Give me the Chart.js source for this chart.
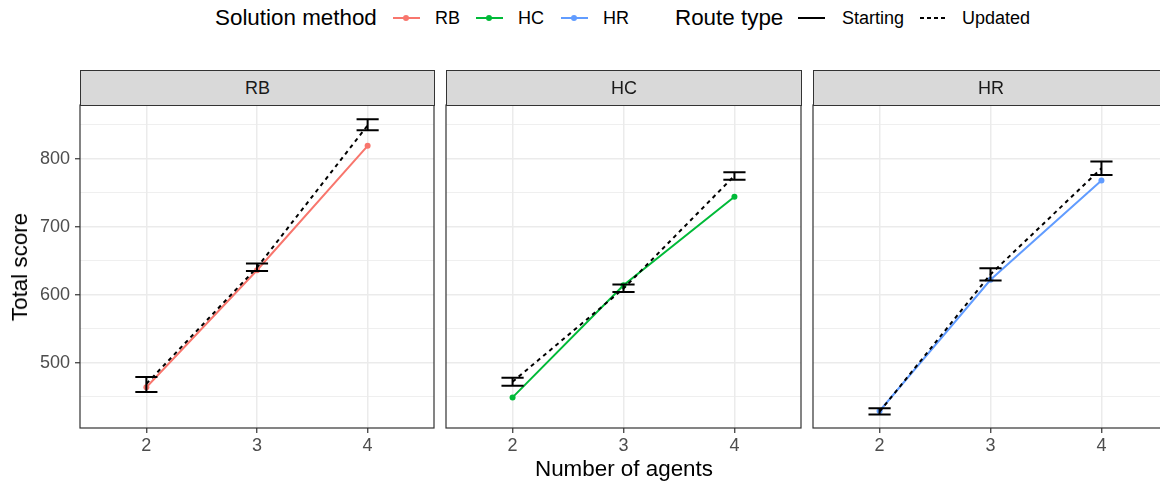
<!DOCTYPE html>
<html>
<head>
<meta charset="utf-8">
<script src="https://cdn.jsdelivr.net/npm/chart.js@4/dist/chart.umd.min.js"></script>
<style>
  html, body { margin: 0; padding: 0; overflow: hidden; background: #fff; }
  body { width: 1160px; height: 484px; position: relative; font-family: "Liberation Sans", Arial, sans-serif; color: #000; }
  .abs { position: absolute; white-space: nowrap; }
  .ttl { font-size: 22.4px; line-height: 26px; }
  .lbl { font-size: 18px; line-height: 22px; }
  .strip { position: absolute; top: 70px; height: 36px; box-sizing: border-box; border: 1px solid #333; background: #d9d9d9;
           color: #1a1a1a; font-size: 18px; line-height: 34px; text-align: center; z-index: 2; }
  canvas { position: absolute; top: 100px; }
  .key { position: absolute; top: 17px; height: 2px; }
  .dot { position: absolute; top: 15px; width: 6px; height: 6px; border-radius: 50%; }
</style>
</head>
<body>
  <!-- legend -->
  <div class="abs ttl" style="left:215px; top:5px;">Solution method</div>
  <div class="key" style="left:393px; width:27px; background:#F8766D;"></div>
  <div class="dot" style="left:403px; background:#F8766D;"></div>
  <div class="abs lbl" style="left:435px; top:7px;">RB</div>
  <div class="key" style="left:476px; width:27px; background:#00BA38;"></div>
  <div class="dot" style="left:486px; background:#00BA38;"></div>
  <div class="abs lbl" style="left:518px; top:7px;">HC</div>
  <div class="key" style="left:561px; width:27px; background:#619CFF;"></div>
  <div class="dot" style="left:571px; background:#619CFF;"></div>
  <div class="abs lbl" style="left:603px; top:7px;">HR</div>

  <div class="abs ttl" style="left:675px; top:5px;">Route type</div>
  <div class="key" style="left:798px; width:27px; background:#000;"></div>
  <div class="abs lbl" style="left:842px; top:7px;">Starting</div>
  <div class="key" style="left:920px; width:28px; background:repeating-linear-gradient(90deg, #000 0 4px, transparent 4px 7px);"></div>
  <div class="abs lbl" style="left:962px; top:7px;">Updated</div>

  <!-- facet strips -->
  <div class="strip" style="left:80px; width:355px;">RB</div>
  <div class="strip" style="left:446px; width:356px;">HC</div>
  <div class="strip" style="left:813px; width:356px;">HR</div>

  <canvas id="panelRB" width="440" height="360" style="left:0px;"></canvas>
  <canvas id="panelHC" width="367" height="360" style="left:440px;"></canvas>
  <canvas id="panelHR" width="367" height="360" style="left:807px;"></canvas>

  <!-- axis titles -->
  <div class="abs ttl" style="left:20px; top:267px; transform:translate(-50%,-50%) rotate(-90deg);">Total score</div>
  <div class="abs ttl" style="left:524px; width:200px; top:456px; text-align:center;">Number of agents</div>

<script>
const agents = [2, 3, 4];
const yGridValues = [450, 500, 550, 600, 650, 700, 750, 800, 850];

// starting routes (solid, coloured)
const rbStarting = [464, 636, 819];
const hcStarting = [449, 614, 744];
const hrStarting = [429, 622, 768];

// updated routes (dashed, mean with error bar)
const rbUpdated = [469, 640, 849];
const rbUpdatedLow = [457, 635, 842];
const rbUpdatedHigh = [479, 646, 858];

const hcUpdated = [472, 609, 775];
const hcUpdatedLow = [466, 604, 769];
const hcUpdatedHigh = [478, 615, 780];

const hrUpdated = [428, 630, 786];
const hrUpdatedLow = [424, 621, 776];
const hrUpdatedHigh = [433, 639, 796];

const FONT = "'Liberation Sans', Arial, sans-serif";

const errorBarPlugin = {
  id: "errorBars",
  afterDatasetsDraw(chart, args, opts) {
    const { ctx, scales: { x, y } } = chart;
    ctx.save();
    ctx.strokeStyle = "#000";
    ctx.lineWidth = 2;
    agents.forEach((a, i) => {
      const xc = x.getPixelForValue(a);
      const xl = x.getPixelForValue(a - 0.1);
      const xr = x.getPixelForValue(a + 0.1);
      const yl = y.getPixelForValue(opts.low[i]);
      const yh = y.getPixelForValue(opts.high[i]);
      ctx.beginPath();
      ctx.moveTo(xc, yl); ctx.lineTo(xc, yh);
      ctx.moveTo(xl, yl); ctx.lineTo(xr, yl);
      ctx.moveTo(xl, yh); ctx.lineTo(xr, yh);
      ctx.stroke();
    });
    ctx.restore();
  }
};

const panelBorder = {
  id: "panelBorder",
  afterDraw(chart) {
    const { ctx, chartArea: a } = chart;
    ctx.save();
    ctx.strokeStyle = "#333333";
    ctx.lineWidth = 1.2;
    ctx.strokeRect(a.left, a.top, a.right - a.left, a.bottom - a.top);
    ctx.restore();
  }
};

function makePanel(id, starting, updated, low, high, color, showY) {
  new Chart(document.getElementById(id), {
    type: "line",
    data: {
      datasets: [
        {
          label: "Updated",
          data: agents.map((a, i) => ({ x: a, y: updated[i] })),
          borderColor: "#000",
          borderWidth: 2,
          borderDash: [4, 4],
          pointRadius: 0,
          fill: false,
          order: 0
        },
        {
          label: "Starting",
          data: agents.map((a, i) => ({ x: a, y: starting[i] })),
          borderColor: color,
          backgroundColor: color,
          borderWidth: 2,
          pointRadius: 3,
          pointBorderWidth: 0,
          fill: false,
          order: 1
        }
      ]
    },
    options: {
      responsive: false,
      animation: false,
      events: [],
      layout: { padding: { top: 5, right: 6, left: 0, bottom: 0 } },
      plugins: {
        legend: { display: false },
        tooltip: { enabled: false },
        errorBars: { low, high }
      },
      scales: {
        x: {
          type: "linear",
          min: 1.4,
          max: 4.6,
          afterBuildTicks: s => { s.ticks = agents.map(v => ({ value: v })); },
          afterFit: s => { s.height = 32; s.paddingLeft = 0; s.paddingRight = 0; },
          border: { display: false },
          grid: { color: "#ebebeb", lineWidth: 1.5, tickColor: "#333333", tickWidth: 1.2, tickLength: 5 },
          ticks: { color: "#4d4d4d", font: { family: FONT, size: 18 }, padding: 2, autoSkip: false, maxRotation: 0 }
        },
        y: {
          type: "linear",
          min: 404,
          max: 879,
          afterBuildTicks: s => { s.ticks = yGridValues.map(v => ({ value: v })); },
          afterFit: s => { s.width = showY ? 80 : 6; s.paddingTop = 0; s.paddingBottom = 0; },
          border: { display: false },
          grid: {
            color: "#ebebeb",
            lineWidth: c => (c.tick && c.tick.value % 100 === 0 ? 1.5 : 0.8),
            drawTicks: showY,
            tickLength: 5,
            tickWidth: 1.2,
            tickColor: c => (c.tick && c.tick.value % 100 === 0 ? "#333333" : "rgba(0,0,0,0)")
          },
          ticks: {
            display: showY,
            color: "#4d4d4d",
            font: { family: FONT, size: 18 },
            padding: 5,
            autoSkip: false,
            callback: v => (v % 100 === 0 ? v : "")
          }
        }
      }
    },
    plugins: [errorBarPlugin, panelBorder]
  });
}

makePanel("panelRB", rbStarting, rbUpdated, rbUpdatedLow, rbUpdatedHigh, "#F8766D", true);
makePanel("panelHC", hcStarting, hcUpdated, hcUpdatedLow, hcUpdatedHigh, "#00BA38", false);
makePanel("panelHR", hrStarting, hrUpdated, hrUpdatedLow, hrUpdatedHigh, "#619CFF", false);
</script>
</body>
</html>
